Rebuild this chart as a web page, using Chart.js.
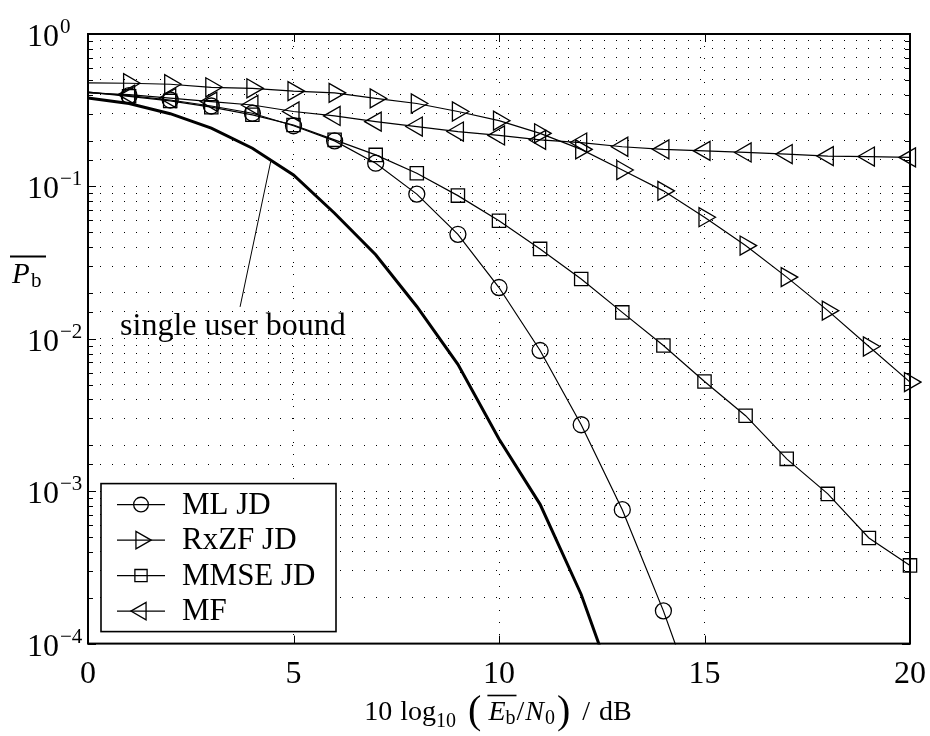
<!DOCTYPE html>
<html>
<head>
<meta charset="utf-8">
<script src="https://cdnjs.cloudflare.com/ajax/libs/Chart.js/4.4.1/chart.umd.min.js"></script>
<style>
  html, body { margin: 0; padding: 0; background: #fff; }
  #wrap { width: 930px; height: 736px; }
</style>
</head>
<body>
<div id="wrap"><canvas id="c" width="930" height="736"></canvas></div>
<script>
// Eb/N0 in dB
const SNR = [0, 1, 2, 3, 4, 5, 6, 7, 8, 9, 10, 11, 12, 13, 14, 15, 16, 17, 18, 19, 20];

// average bit error probability
const ML_JD = [0.415, 0.394, 0.369, 0.337, 0.302, 0.25, 0.199, 0.142, 0.089, 0.0485, 0.0217,
  0.00838, 0.00273, 7.56e-4, 1.64e-4, 2.9e-5];
const RXZF_JD = [0.478, 0.475, 0.468, 0.447, 0.44, 0.422, 0.411, 0.378, 0.35, 0.31, 0.27,
  0.223, 0.175, 0.128, 0.0935, 0.0628, 0.0409, 0.0254, 0.0153, 0.0089, 0.0052];
const MMSE_JD = [0.415, 0.39, 0.364, 0.331, 0.295, 0.253, 0.202, 0.161, 0.122, 0.087, 0.0595,
  0.0389, 0.0247, 0.0149, 0.00904, 0.00525, 0.00313, 0.00163, 9.6e-4, 4.93e-4, 3.26e-4];
const MF = [0.41, 0.40, 0.38, 0.36, 0.342, 0.31, 0.29, 0.266, 0.247, 0.229, 0.216,
  0.202, 0.194, 0.182, 0.175, 0.171, 0.167, 0.163, 0.158, 0.157, 0.155];
const SINGLE_USER = [0.38, 0.35, 0.30, 0.241, 0.178, 0.119, 0.0667, 0.0356, 0.0163, 0.0068, 0.0022,
  8.2e-4, 2.1e-4, 3.7e-5];

const X_TICKS = [0, 5, 10, 15, 20];
const Y_DECADES = [1, 1e-1, 1e-2, 1e-3, 1e-4];

// annotation anchors in data units
const NOTE_TEXT = 'single user bound';
const NOTE_AT = { x: 0.78, y: 0.0106 };
const NOTE_FROM = { x: 3.70, y: 0.0162 };
const NOTE_TO = { x: 4.445, y: 0.1455 };

const SERIF = '"Liberation Serif", "Times New Roman", serif';

const toXY = arr => arr.map((v, i) => ({ x: SNR[i], y: v }));

/** marker on every point except the first (0 dB) */
const markerRadius = r => ctx => (ctx.dataIndex === 0 ? 0 : r);

function series(label, data, style, rotation, r) {
  return {
    label,
    data: toXY(data),
    borderColor: '#000',
    borderWidth: 1.2,
    pointStyle: style,
    pointRotation: rotation,
    pointRadius: markerRadius(r),
    pointBorderColor: '#000',
    pointBorderWidth: 1.3,
    pointBackgroundColor: 'rgba(0,0,0,0)',
    tension: 0,
    clip: { left: 2, top: 2, right: 16, bottom: 1 },
  };
}

const isDecade = v => Math.abs(Math.log10(v) - Math.round(Math.log10(v))) < 1e-6;

const decor = {
  id: 'decor',
  afterDraw(chart) {
    const { ctx, chartArea: a, scales: { x, y } } = chart;
    ctx.save();

    // frame
    ctx.strokeStyle = '#000';
    ctx.lineWidth = 2;
    ctx.strokeRect(a.left, a.top, a.right - a.left, a.bottom - a.top);

    // inward ticks
    ctx.lineWidth = 1;
    ctx.beginPath();
    y.ticks.forEach(t => {
      const py = Math.round(y.getPixelForValue(t.value)) + 0.5;
      const len = isDecade(t.value) ? 8 : 5;
      ctx.moveTo(a.left, py); ctx.lineTo(a.left + len, py);
      ctx.moveTo(a.right - len, py); ctx.lineTo(a.right, py);
    });
    X_TICKS.forEach(v => {
      const px = Math.round(x.getPixelForValue(v)) + 0.5;
      ctx.moveTo(px, a.bottom); ctx.lineTo(px, a.bottom - 8);
      ctx.moveTo(px, a.top); ctx.lineTo(px, a.top + 8);
    });
    ctx.stroke();

    // y tick labels 10^k
    ctx.fillStyle = '#000';
    ctx.textBaseline = 'alphabetic';
    ctx.textAlign = 'left';
    Y_DECADES.forEach(v => {
      const py = y.getPixelForValue(v);
      const k = Math.round(Math.log10(v));
      ctx.font = '32px ' + SERIF;
      ctx.fillText('10', 27, py + 12);
      const w = ctx.measureText('10').width;
      ctx.font = '21px ' + SERIF;
      ctx.fillText(k === 0 ? '0' : '\u2212' + (-k), 27 + w + 1, py - 1);
    });

    // y axis title: overline P_b
    ctx.font = 'italic 29px ' + SERIF;
    ctx.fillText('P', 12, 283);
    ctx.font = '21px ' + SERIF;
    ctx.fillText('b', 31, 287);
    ctx.lineWidth = 1.8;
    ctx.beginPath();
    ctx.moveTo(10, 256.5); ctx.lineTo(46, 256.5);
    ctx.stroke();

    // x axis title: 10 log10 (overline Eb / N0) / dB
    const base = 720;
    const parts = [
      { t: '10', f: '28px ', dy: 0, gap: 8 },
      { t: 'log', f: '28px ', dy: 0, gap: 0 },
      { t: '10', f: '20px ', dy: 7, gap: 12 },
      { t: '(', f: '40px ', dy: 3, gap: 7 },
      { t: 'E', f: 'italic 28px ', dy: 0, gap: 0, over: 'start' },
      { t: 'b', f: '20px ', dy: 4, gap: 1, over: 'end' },
      { t: '/', f: '28px ', dy: 0, gap: 1 },
      { t: 'N', f: 'italic 28px ', dy: 0, gap: 1 },
      { t: '0', f: '20px ', dy: 4, gap: 2 },
      { t: ')', f: '40px ', dy: 3, gap: 12 },
      { t: '/', f: '28px ', dy: 0, gap: 9 },
      { t: 'dB', f: '28px ', dy: 0, gap: 0 },
    ];
    let total = 0;
    parts.forEach(p => {
      ctx.font = p.f + SERIF;
      p.w = ctx.measureText(p.t).width;
      total += p.w + p.gap;
    });
    let cx = (a.left + a.right) / 2 - 1 - total / 2;
    let o0 = 0, o1 = 0;
    parts.forEach(p => {
      ctx.font = p.f + SERIF;
      ctx.fillText(p.t, cx, base + p.dy);
      if (p.over === 'start') o0 = cx - 1;
      if (p.over === 'end') o1 = cx + p.w + 1;
      cx += p.w + p.gap;
    });
    ctx.lineWidth = 1.6;
    ctx.beginPath();
    ctx.moveTo(o0, base - 24.5); ctx.lineTo(o1, base - 24.5);
    ctx.stroke();

    // single user bound annotation
    ctx.lineWidth = 1;
    ctx.beginPath();
    ctx.moveTo(x.getPixelForValue(NOTE_FROM.x), y.getPixelForValue(NOTE_FROM.y));
    ctx.lineTo(x.getPixelForValue(NOTE_TO.x), y.getPixelForValue(NOTE_TO.y));
    ctx.stroke();
    ctx.font = '32px ' + SERIF;
    ctx.fillText(NOTE_TEXT, x.getPixelForValue(NOTE_AT.x), y.getPixelForValue(NOTE_AT.y));

    // legend box, bottom left inside the axes
    const items = chart.data.datasets.filter(d => d.label);
    const bx = a.left + 13, bw = 235, bh = 148;
    const by = a.bottom - 12 - bh;
    ctx.fillStyle = '#fff';
    ctx.fillRect(bx, by, bw, bh);
    ctx.lineWidth = 1.6;
    ctx.strokeRect(bx, by, bw, bh);
    items.forEach((d, i) => {
      const ry = by + 21 + i * 35.5;
      ctx.strokeStyle = '#000';
      ctx.lineWidth = 1.2;
      ctx.beginPath();
      ctx.moveTo(bx + 16, ry); ctx.lineTo(bx + 64, ry);
      ctx.stroke();
      ctx.lineWidth = 1.3;
      ctx.fillStyle = 'rgba(0,0,0,0)';
      const r = d.pointRadius({ dataIndex: 1 });
      Chart.helpers.drawPoint(ctx, {
        pointStyle: d.pointStyle, rotation: d.pointRotation || 0, radius: r * 0.92, borderWidth: 1.3,
      }, bx + 40, ry);
      ctx.fillStyle = '#000';
      ctx.font = '31px ' + SERIF;
      ctx.textBaseline = 'middle';
      ctx.fillText(d.label, bx + 81, ry + 1);
      ctx.textBaseline = 'alphabetic';
    });

    ctx.restore();
  },
};

new Chart(document.getElementById('c'), {
  type: 'line',
  data: {
    datasets: [
      series('ML JD', ML_JD, 'circle', 0, 8),
      series('RxZF JD', RXZF_JD, 'triangle', 90, 11),
      series('MMSE JD', MMSE_JD, 'rect', 0, 9.4),
      series('MF', MF, 'triangle', 270, 11),
      {
        label: '',
        data: toXY(SINGLE_USER),
        borderColor: '#000',
        borderWidth: 3,
        pointRadius: 0,
        tension: 0,
        clip: { left: 2, top: 2, right: 2, bottom: 1 },
      },
    ],
  },
  options: {
    responsive: false,
    devicePixelRatio: 1,
    animation: false,
    events: [],
    layout: { padding: { left: 88, right: 20, top: 34, bottom: 30 } },
    plugins: { legend: { display: false }, tooltip: { enabled: false } },
    scales: {
      x: {
        type: 'linear',
        min: 0,
        max: 20,
        afterFit(scale) {
          // the edge labels may hang past the axes, like the original
          scale.paddingLeft = 0;
          scale.paddingRight = 0;
        },
        ticks: {
          stepSize: 5,
          color: '#000',
          padding: 12,
          maxRotation: 0,
          font: { family: SERIF, size: 32 },
        },
        grid: { color: '#000', lineWidth: 1, drawTicks: false },
        border: { display: false, dash: [1, 11] },
      },
      y: {
        type: 'logarithmic',
        min: 1e-4,
        max: 1,
        ticks: { display: false, autoSkip: false },
        grid: { color: '#000', lineWidth: 1, drawTicks: false },
        border: { display: false, dash: [1, 11] },
      },
    },
  },
  plugins: [decor],
});
</script>
</body>
</html>
